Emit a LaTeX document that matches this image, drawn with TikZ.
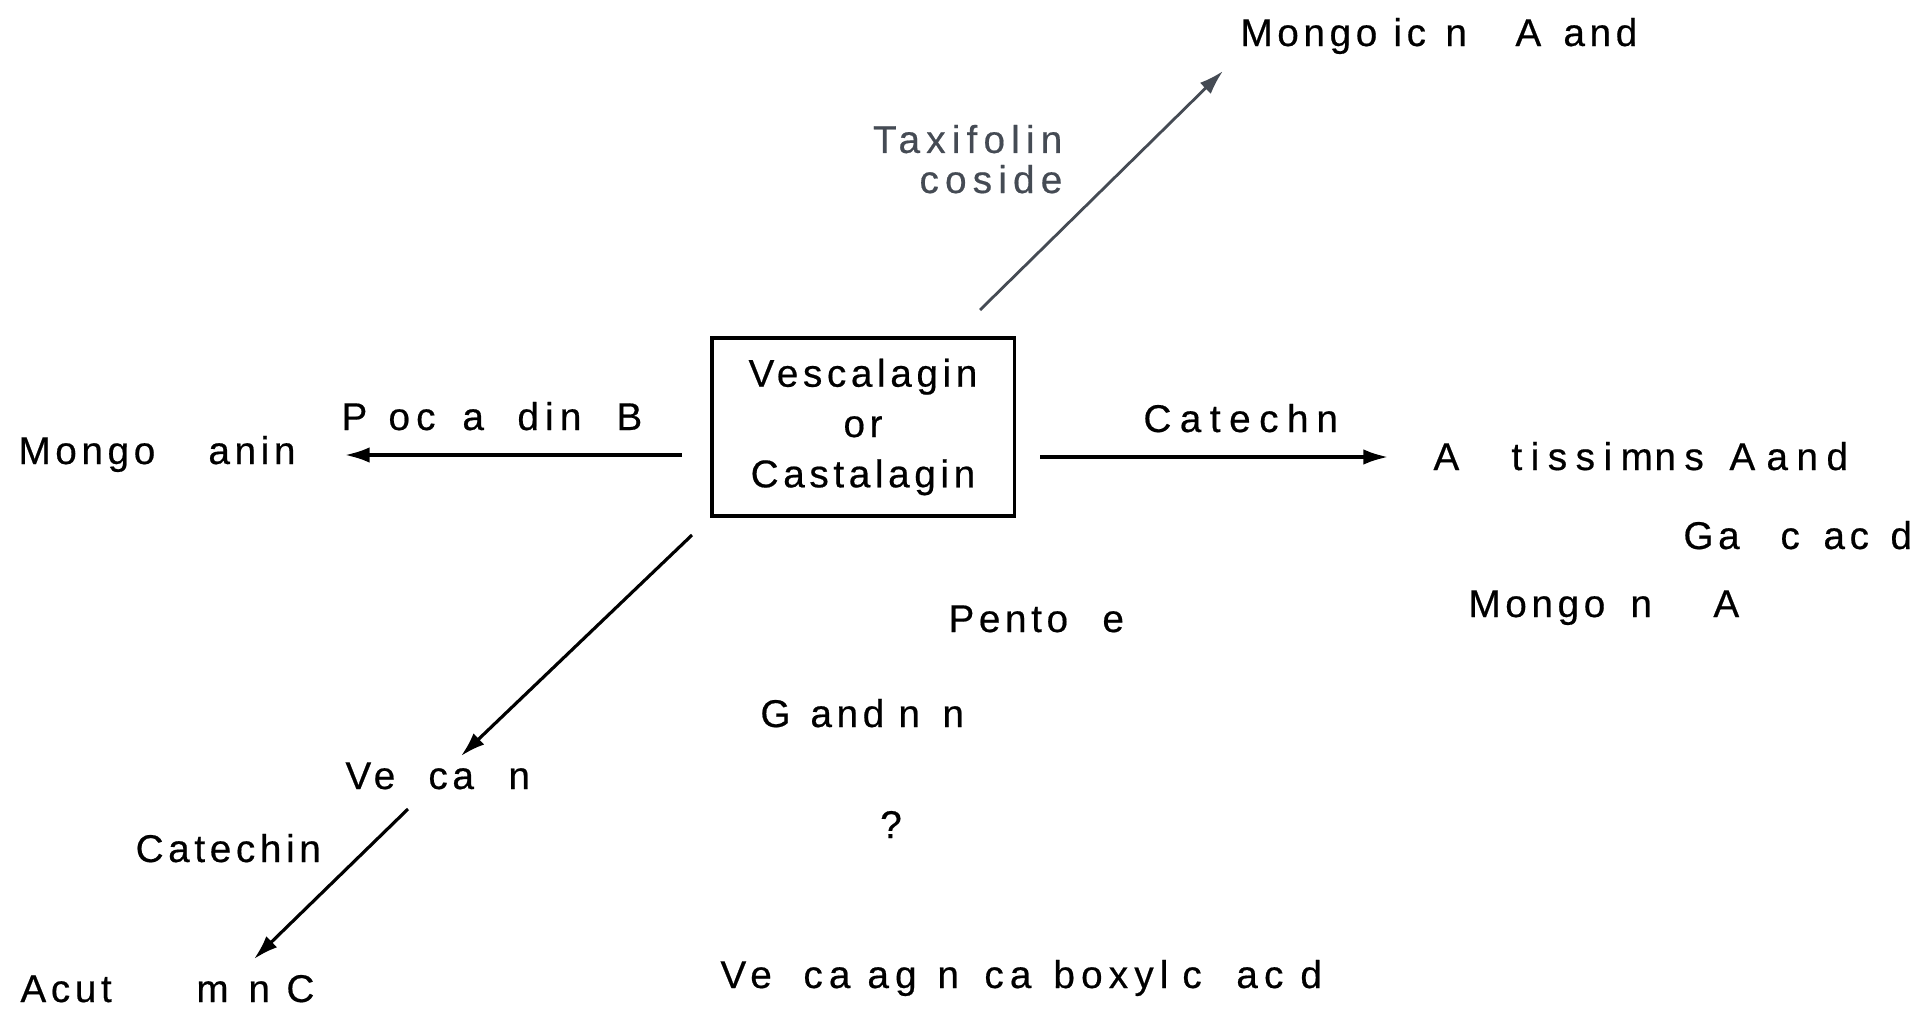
\documentclass[tikz,border=0pt]{standalone}
\usepackage{fontspec}
\setmainfont{Liberation Sans}[LetterSpace=12, FakeBold=0.5]
\usetikzlibrary{arrows.meta}
\definecolor{slate}{HTML}{454B54}
\newlength\pxunit
\setlength\pxunit{0.01cm}
% a fragment of a label set at a fixed offset (in picture pixels) from the label's start
\newcommand\pc[2]{\makebox[0pt][l]{\hspace{#1\pxunit}#2}}
\tikzset{
  lbl/.style={anchor=base west, inner sep=0pt, font=\fontsize{11}{13}\selectfont},
  track/.style={font=\fontsize{11}{13}\selectfont\addfontfeature{LetterSpace=#1}},
  rxn/.style={line width=0.9pt, -{Latex[length=7pt,width=4.4pt]}},
  grayrxn/.style={rxn, draw=slate, line width=0.8pt},
  mainbox/.style={draw, line width=0.9pt, minimum width=3.02cm, minimum height=1.78cm,
    inner sep=0pt, align=center, font=\fontsize{11}{14.3}\selectfont}
}
\begin{document}
\begin{tikzpicture}[x=0.01cm, y=-0.01cm]
\useasboundingbox (0,0) rectangle (1921,1009);

% central compound
\node[mainbox] (box) at (863,427) {Vescalagin\\or\\Castalagin};

% products and reagents
\node[lbl] (mongolicin) at (1238,46)
  {\pc{0}{Mongo}\pc{153}{ic}\pc{205}{n}\pc{275}{A}\pc{323}{and}};
\node[lbl, anchor=base east, align=right, text=slate,
      font=\fontsize{11}{11.4}\selectfont\addfontfeature{LetterSpace=16}] (taxi) at (1063,193)
  {Taxifolin\\coside};
\node[lbl, track=16] (procy) at (339,430)
  {\pc{0}{P}\pc{47}{oc}\pc{121}{a}\pc{176}{din}\pc{275}{B}};
\node[lbl] (mongolicanin) at (16,464) {\pc{0}{Mongo}\pc{190}{anin}};
\node[lbl, track=22] (catR) at (1141,432) {\pc{0}{Catech}\pc{173}{n}};
\node[lbl, track=22] (acutAB) at (1431,470)
  {\pc{0}{A}\pc{78}{tissim}\pc{221}{ns}\pc{296}{A}\pc{333}{and}};
\node[lbl] (gallic) at (1681,549) {\pc{0}{Ga}\pc{97}{c}\pc{140}{ac}\pc{207}{d}};
\node[lbl] (mongolinin) at (1466,617) {\pc{0}{Mongo}\pc{162}{n}\pc{245}{A}};
\node[lbl] (pentose) at (946,632) {\pc{0}{Pento}\pc{154}{e}};
\node[lbl] (grandinin) at (758,727) {\pc{0}{G}\pc{50}{and}\pc{138}{n}\pc{182}{n}};
\node[lbl, anchor=base] (quest) at (891,838) {?};
\node[lbl, track=16] (vcarb) at (718,988)
  {\pc{0}{Ve}\pc{83}{ca}\pc{147}{ag}\pc{217}{n}\pc{264}{ca}\pc{333}{boxyl}\pc{462}{c}\pc{516}{ac}\pc{580}{d}};
\node[lbl] (vescalin) at (343,789) {\pc{0}{Ve}\pc{83}{ca}\pc{163}{n}};
\node[lbl] (catL) at (135,862) {Catechin};
\node[lbl] (acutC) at (18,1002) {\pc{0}{Acut}\pc{176}{m}\pc{228}{n}\pc{266}{C}};

% arrow end points
\coordinate (upS) at (980,310);
\coordinate (upE) at (1223,71);
\coordinate (leftS) at (682,455);
\coordinate (leftE) at (345,455);
\coordinate (rightS) at (1040,457);
\coordinate (rightE) at (1388,457);
\coordinate (dgS) at (692,535);
\coordinate (dgE) at (461,756);
\coordinate (dg2S) at (408,809);
\coordinate (dg2E) at (254,959);

% reactions
\draw[grayrxn] (upS) -- (upE);
\draw[rxn] (leftS) -- (leftE);
\draw[rxn] (rightS) -- (rightE);
\draw[rxn] (dgS) -- (dgE);
\draw[rxn] (dg2S) -- (dg2E);
\end{tikzpicture}
\end{document}
